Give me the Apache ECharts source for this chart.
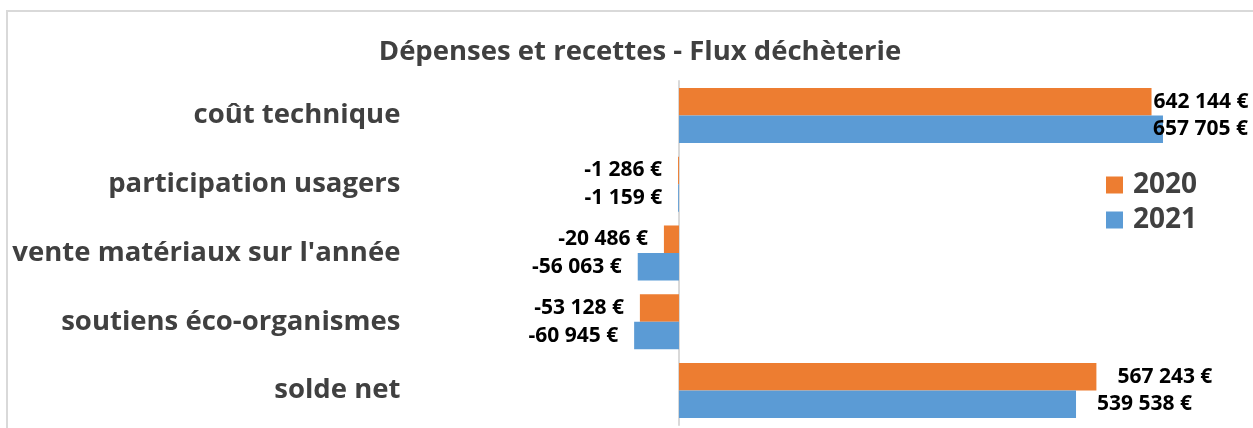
<!DOCTYPE html>
<html>
<head>
<meta charset="utf-8">
<script src="https://cdn.jsdelivr.net/npm/echarts@6/dist/echarts.min.js"></script>
<style>
  html, body { margin: 0; padding: 0; background: #fff; }
  #myChart { width: 1253px; height: 428px; }
</style>
</head>
<body>
<div id="myChart"></div>
<script>
var categories = [
  "coût technique",
  "participation usagers",
  "vente matériaux sur l'année",
  "soutiens éco-organismes",
  "solde net"
];
var values2020 = [642144, -1286, -20486, -53128, 567243];
var values2021 = [657705, -1159, -56063, -60945, 539538];
var seriesNames = ["2020", "2021"];

var FONT = "Open Sans";

function euro(v) {
  var s = Math.abs(v).toString().replace(/\B(?=(\d{3})+(?!\d))/g, " ");
  return (v < 0 ? "-" : "") + s + " €";
}

// décalage des étiquettes comme dans le graphique d'origine
function labelDist(seriesIdx, catIdx, v) {
  if (v < 0) return 16;
  if (catIdx === 4) return 21;
  if (catIdx === 0 && seriesIdx === 1) return -10;
  return 2;
}

function buildData(values, seriesIdx) {
  return values.map(function (v, i) {
    return {
      value: v,
      label: {
        position: v < 0 ? "left" : "right",
        distance: labelDist(seriesIdx, i, v)
      }
    };
  });
}

var myChart = echarts.init(document.getElementById("myChart"));
myChart.setOption({
  animation: false,
  color: ["#ED7D31", "#5B9BD5"],
  title: {
    text: "Dépenses et recettes - Flux déchèterie",
    left: 635,
    textAlign: "center",
    top: 33,
    textStyle: { fontFamily: FONT, fontSize: 27.5, fontWeight: "bold", color: "#404040" }
  },
  legend: {
    orient: "vertical",
    left: 1106,
    top: 171,
    padding: 0,
    itemWidth: 17,
    itemHeight: 17,
    itemGap: 7,
    icon: "rect",
    data: seriesNames,
    textStyle: { fontFamily: FONT, fontSize: 28, fontWeight: "bold", color: "#404040", padding: [0, 0, 0, 5] }
  },
  graphic: [{
    type: "rect",
    shape: { x: 7, y: 11, width: 1300, height: 500 },
    style: { fill: "none", stroke: "#d9d9d9", lineWidth: 2 },
    silent: true,
    z: -1
  }],
  grid: { left: 605.4, width: 588.7, top: 81, bottom: 3 },
  xAxis: {
    type: "value",
    min: -100000,
    max: 700000,
    axisLabel: { show: false },
    axisLine: { show: false },
    axisTick: { show: false },
    splitLine: { show: false }
  },
  yAxis: {
    type: "category",
    inverse: true,
    data: categories,
    axisTick: { show: false },
    axisLine: { onZero: true, lineStyle: { color: "#d9d9d9", width: 2 } },
    axisLabel: {
      margin: 205,
      fontFamily: FONT,
      fontSize: 27.5,
      fontWeight: "bold",
      color: "#404040"
    }
  },
  series: seriesNames.map(function (name, s) {
    return {
      name: name,
      type: "bar",
      barGap: "0%",
      barCategoryGap: "20%",
      data: buildData(s === 0 ? values2020 : values2021, s),
      label: {
        show: true,
        fontFamily: FONT,
        fontSize: 21,
        fontWeight: "bold",
        color: "#000",
        formatter: function (p) { return euro(p.value); }
      }
    };
  })
});
</script>
</body>
</html>
